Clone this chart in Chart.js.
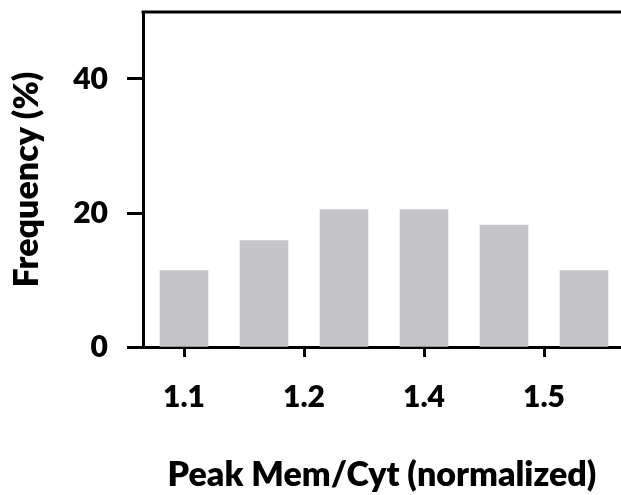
<!DOCTYPE html>
<html>
<head>
<meta charset="utf-8">
<script src="https://cdn.jsdelivr.net/npm/chart.js@4/dist/chart.umd.min.js"></script>
<style>
  html, body { margin: 0; padding: 0; background: #ffffff; }
  #wrap { width: 621px; height: 495px; position: relative; }
</style>
</head>
<body>
<div id="wrap"><canvas id="chart" width="621" height="495"></canvas></div>
<script>
// Histogram of peak membrane/cytosol ratio (normalized)
const frequency = [11.4, 15.9, 20.5, 20.5, 18.2, 11.4];   // % per bin
const xTickPositions = [0, 1.5, 3, 4.5];                  // in bin units
const xTickLabels = ['1.1', '1.2', '1.4', '1.5'];
const yTickValues = [0, 20, 40];
const yMax = 50;

const FONT = 'Lato, "Open Sans", sans-serif';
const WEIGHT = 800;

// closes the frame along the top of the plot area
const topBorder = {
  id: 'topBorder',
  afterDraw(chart) {
    const { ctx, chartArea } = chart;
    ctx.save();
    ctx.strokeStyle = '#000';
    ctx.lineWidth = 3;
    ctx.beginPath();
    ctx.moveTo(chartArea.left - 1.5, chartArea.top);
    ctx.lineTo(chartArea.right, chartArea.top);
    ctx.stroke();
    ctx.restore();
  }
};

new Chart(document.getElementById('chart'), {
  type: 'bar',
  data: {
    datasets: [{
      data: frequency.map((v, i) => ({ x: i, y: v })),
      backgroundColor: '#c5c4c8',
      borderWidth: 0,
      barThickness: 48
    }]
  },
  options: {
    responsive: false,
    animation: false,
    layout: { padding: { top: 12, left: 0, right: 0, bottom: 0 } },
    plugins: { legend: { display: false }, tooltip: { enabled: false } },
    scales: {
      x: {
        type: 'linear',
        offset: false,
        min: -0.5125,
        max: 5.4625,
        afterBuildTicks(scale) {
          scale.ticks = xTickPositions.map(v => ({ value: v }));
        },
        afterFit(scale) {
          scale.height = 148;
          scale.paddingLeft = 0;
          scale.paddingRight = 0;
        },
        grid: {
          offset: false,
          drawOnChartArea: false,
          drawTicks: true,
          tickLength: 10,
          tickWidth: 3,
          tickColor: '#000'
        },
        border: { display: true, width: 3, color: '#000' },
        ticks: {
          autoSkip: false,
          maxRotation: 0,
          padding: 22,
          color: '#000',
          font: { family: FONT, size: 30, weight: WEIGHT },
          callback(value) {
            const k = xTickPositions.indexOf(value);
            return k >= 0 ? xTickLabels[k] : '';
          }
        },
        title: {
          display: true,
          text: 'Peak Mem/Cyt (normalized)',
          color: '#000',
          font: { family: FONT, size: 34, weight: WEIGHT },
          padding: { top: 0, bottom: 0 }
        }
      },
      y: {
        min: 0,
        max: yMax,
        afterBuildTicks(scale) {
          scale.ticks = yTickValues.map(v => ({ value: v }));
        },
        afterFit(scale) {
          scale.width = 143;
          scale.paddingTop = 0;
          scale.paddingBottom = 0;
        },
        grid: {
          offset: false,
          drawOnChartArea: false,
          drawTicks: true,
          tickLength: 16,
          tickWidth: 3,
          tickColor: '#000'
        },
        border: { display: true, width: 3, color: '#000' },
        ticks: {
          padding: 19,
          color: '#000',
          font: { family: FONT, size: 30, weight: WEIGHT }
        },
        title: {
          display: true,
          text: 'Frequency (%)',
          color: '#000',
          font: { family: FONT, size: 34, weight: WEIGHT },
          padding: { top: 7, bottom: 0 }
        }
      }
    }
  },
  plugins: [topBorder]
});
</script>
</body>
</html>
